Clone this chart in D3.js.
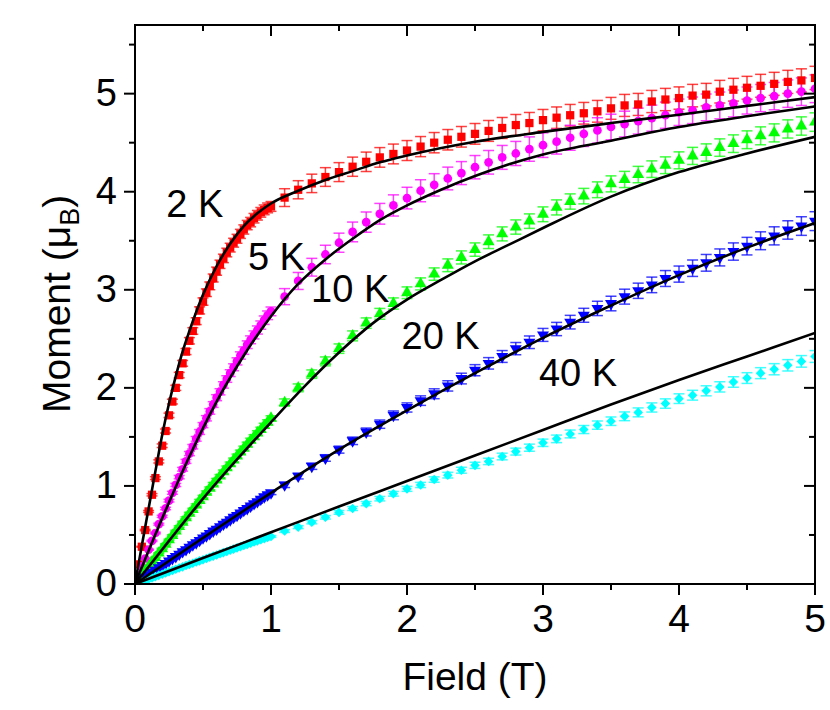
<!DOCTYPE html>
<html>
<head>
<meta charset="utf-8">
<script src="https://cdn.jsdelivr.net/npm/d3@7"></script>
<style>
  html, body { margin: 0; padding: 0; background: #fff; }
  svg { display: block; }
  text { font-family: "Liberation Sans", Arial, Helvetica, sans-serif; fill: #000; }
</style>
</head>
<body>
<svg id="chart" width="830" height="710"></svg>
<script>
// ---------------- DATA ----------------
const temperatures = ["2 K", "5 K", "10 K", "20 K", "40 K"];
const seriesColors = ["#ff0000", "#ff00ff", "#00ff00", "#0000ff", "#00ffff"];

const fieldLow = [0.025,0.05,0.075,0.1,0.125,0.15,0.175,0.2,0.225,0.25,0.275,0.3,0.325,0.35,0.375,0.4,
  0.425,0.45,0.475,0.5,0.525,0.55,0.575,0.6,0.625,0.65,0.675,0.7,0.725,0.75,0.775,0.8,0.825,0.85,0.875,0.9,
  0.925,0.95,0.975,1.0];
const fieldHigh = [1.1,1.2,1.3,1.4,1.5,1.6,1.7,1.8,1.9,2.0,2.1,2.2,2.3,2.4,2.5,2.6,2.7,2.8,2.9,3.0,
  3.1,3.2,3.3,3.4,3.5,3.6,3.7,3.8,3.9,4.0,4.1,4.2,4.3,4.4,4.5,4.6,4.7,4.8,4.9,5.0];

// measured moments (muB)
const m2KLow = [0.2,0.38,0.55,0.74,0.91,1.08,1.25,1.41,1.56,1.72,1.86,2.0,2.13,2.25,2.37,2.48,2.58,2.68,2.79,2.88,
  2.97,3.04,3.12,3.19,3.26,3.32,3.38,3.43,3.48,3.52,3.57,3.615,3.66,3.69,3.73,3.76,3.79,3.815,3.835,3.85];
const m2KHigh = [3.94,4.02,4.085,4.15,4.2,4.255,4.305,4.35,4.385,4.42,4.46,4.5,4.53,4.56,4.59,4.62,4.65,4.68,4.7,4.73,
  4.755,4.78,4.8,4.82,4.85,4.88,4.89,4.92,4.94,4.955,4.98,4.99,5.02,5.04,5.06,5.08,5.1,5.12,5.135,5.16];

const m5KLow = [0.09,0.18,0.26,0.35,0.44,0.52,0.61,0.69,0.77,0.85,0.93,1.01,1.09,1.17,1.25,1.33,1.4,1.48,1.55,1.62,
  1.69,1.76,1.83,1.9,1.96,2.03,2.09,2.15,2.21,2.27,2.33,2.38,2.44,2.49,2.54,2.59,2.64,2.69,2.74,2.78];
const m5KHigh = [2.93,3.09,3.23,3.36,3.48,3.59,3.69,3.775,3.86,3.935,4.01,4.07,4.135,4.19,4.25,4.3,4.35,4.39,4.435,4.475,
  4.51,4.55,4.59,4.625,4.66,4.69,4.72,4.75,4.78,4.81,4.83,4.86,4.88,4.9,4.93,4.955,4.975,5.0,5.02,5.05];

const m10KLow = [0.045,0.09,0.135,0.18,0.225,0.27,0.315,0.36,0.405,0.45,0.495,0.54,0.585,0.63,0.675,0.72,0.76,0.805,0.85,0.89,
  0.935,0.975,1.02,1.06,1.1,1.145,1.185,1.225,1.265,1.305,1.345,1.385,1.425,1.465,1.5,1.54,1.575,1.615,1.65,1.69];
const m10KHigh = [1.85,2.0,2.14,2.27,2.4,2.53,2.66,2.755,2.86,2.97,3.06,3.16,3.25,3.33,3.41,3.49,3.57,3.64,3.7,3.77,
  3.84,3.9,3.955,4.02,4.08,4.125,4.175,4.23,4.27,4.32,4.365,4.4,4.45,4.49,4.53,4.57,4.6,4.64,4.67,4.71];

const m20KLow = [0.025,0.05,0.07,0.095,0.12,0.14,0.165,0.19,0.21,0.235,0.26,0.28,0.305,0.33,0.35,0.375,0.4,0.42,0.445,0.47,
  0.49,0.515,0.54,0.56,0.585,0.61,0.63,0.655,0.68,0.7,0.725,0.75,0.77,0.795,0.82,0.84,0.865,0.89,0.91,0.93];
const m20KHigh = [1.01,1.1,1.2,1.285,1.37,1.46,1.55,1.63,1.72,1.8,1.87,1.94,2.02,2.095,2.18,2.25,2.32,2.4,2.465,2.54,
  2.6,2.67,2.74,2.81,2.86,2.93,2.99,3.05,3.115,3.16,3.22,3.275,3.33,3.39,3.445,3.5,3.55,3.61,3.65,3.7];

const m40KLow = [0.012,0.025,0.037,0.05,0.062,0.075,0.088,0.1,0.113,0.125,0.138,0.15,0.163,0.175,0.188,0.2,0.212,0.224,0.236,0.248,
  0.26,0.272,0.284,0.296,0.308,0.32,0.332,0.344,0.356,0.368,0.38,0.392,0.404,0.416,0.428,0.44,0.452,0.463,0.474,0.485];
const m40KHigh = [0.54,0.58,0.63,0.68,0.73,0.77,0.82,0.87,0.92,0.97,1.01,1.065,1.11,1.16,1.21,1.25,1.3,1.35,1.39,1.44,
  1.48,1.53,1.575,1.62,1.66,1.71,1.75,1.8,1.84,1.89,1.925,1.97,2.01,2.06,2.1,2.15,2.19,2.23,2.27,2.32];

// relative error bars (fraction of moment), low-field and high-field sets
const errFracLow  = [0.013, 0.016, 0.015, 0.02, 0.02];
const errFracHigh = [0.023, 0.028, 0.02, 0.026, 0.026];

// fit curves (black lines)
const fit2KField = [0,0.05,0.1,0.15,0.2,0.25,0.3,0.35,0.4,0.5,0.6,0.7,0.8,0.9,1.0,1.2,1.4,1.6,1.8,2.0,2.5,3.0,3.5,4.0,4.5,5.0];
const fit2KMoment = [0,0.39,0.77,1.15,1.52,1.84,2.12,2.37,2.58,2.95,3.24,3.47,3.65,3.78,3.88,4.01,4.12,4.21,4.3,4.37,4.51,4.61,4.7,4.785,4.875,4.965];
const fit5KField = [0,0.2,0.4,0.6,0.8,1.0,1.2,1.4,1.6,1.8,2.0,2.25,2.5,2.75,3.0,3.5,4.0,4.5,5.0];
const fit5KMoment = [0,0.67,1.3,1.86,2.33,2.73,3.06,3.31,3.52,3.71,3.86,4.02,4.16,4.28,4.38,4.52,4.66,4.77,4.87];
const fit10KField = [0,0.25,0.5,0.75,1.0,1.25,1.5,1.75,2.0,2.25,2.5,2.75,3.0,3.5,4.0,4.5,5.0];
const fit10KMoment = [0,0.44,0.87,1.27,1.65,2.02,2.36,2.66,2.9,3.1,3.29,3.46,3.63,3.95,4.2,4.39,4.56];
const fit20KField = [0,0.5,1.0,1.5,2.0,2.5,3.0,3.5,4.0,4.5,5.0];
const fit20KMoment = [0,0.47,0.93,1.37,1.77,2.15,2.51,2.84,3.15,3.43,3.68];
const fit40KField = [0,0.5,1.0,1.5,2.0,2.5,3.0,3.5,4.0,4.5,5.0];
const fit40KMoment = [0,0.265,0.527,0.79,1.05,1.31,1.57,1.83,2.08,2.32,2.56];

// annotation labels placed in data coordinates
const labelTexts = ["2 K", "5 K", "10 K", "20 K", "40 K"];
const labelField = [0.23, 0.83, 1.295, 1.96, 2.97];
const labelMoment = [3.74, 3.2, 2.88, 2.4, 2.02];

const xTicks = [0, 1, 2, 3, 4, 5];
const yTicks = [0, 1, 2, 3, 4, 5];

// ---------------- CHART ----------------
const svg = d3.select("#chart");
svg.append("rect").attr("width", 830).attr("height", 710).attr("fill", "#fff");

const L = 135, R = 815, T = 25, B = 584;
const x = d3.scaleLinear().domain([0, 5]).range([L, R]);
const y = d3.scaleLinear().domain([0, 5.7]).range([B, T]);

const lows = [m2KLow, m5KLow, m10KLow, m20KLow, m40KLow];
const highs = [m2KHigh, m5KHigh, m10KHigh, m20KHigh, m40KHigh];
const fits = [[fit2KField, fit2KMoment],[fit5KField, fit5KMoment],[fit10KField, fit10KMoment],[fit20KField, fit20KMoment],[fit40KField, fit40KMoment]];

const series = temperatures.map((t, i) => {
  const pts = [];
  fieldLow.forEach((f, j) => pts.push({f, m: lows[i][j], e: lows[i][j] * errFracLow[i]}));
  fieldHigh.forEach((f, j) => pts.push({f, m: highs[i][j], e: highs[i][j] * errFracHigh[i]}));
  return {t, color: seriesColors[i], pts, idx: i};
});

svg.append("defs").append("clipPath").attr("id", "plotclip")
  .append("rect").attr("x", L).attr("y", T).attr("width", R - L).attr("height", B - T);

const plot = svg.append("g").attr("clip-path", "url(#plotclip)");

const symbols = [
  d3.symbol().type(d3.symbolSquare).size(68),
  d3.symbol().type(d3.symbolCircle).size(60),
  d3.symbol().type(d3.symbolTriangle).size(62),
  d3.symbol().type(d3.symbolTriangle).size(62),
  d3.symbol().type(d3.symbolSquare).size(46)
];
const rotations = [0, 0, 0, 180, 45];

// error bars
series.forEach(s => {
  const g = plot.append("g").attr("stroke", s.color).attr("stroke-width", 1.5).attr("stroke-opacity", 0.75).attr("fill", "none");
  s.pts.forEach(p => {
    const cx = x(p.f), y1 = y(p.m + p.e), y2 = y(p.m - p.e);
    g.append("line").attr("x1", cx).attr("x2", cx).attr("y1", y1).attr("y2", y2);
    g.append("line").attr("x1", cx - 5.5).attr("x2", cx + 5.5).attr("y1", y1).attr("y2", y1);
    g.append("line").attr("x1", cx - 5.5).attr("x2", cx + 5.5).attr("y1", y2).attr("y2", y2);
  });
});

// markers
series.forEach(s => {
  plot.append("g").selectAll("path").data(s.pts).join("path")
    .attr("d", symbols[s.idx])
    .attr("fill", s.color)
    .attr("transform", d => `translate(${x(d.f)},${y(d.m)}) rotate(${rotations[s.idx]})`);
});

// fit lines
const line = d3.line().x(d => x(d[0])).y(d => y(d[1])).curve(d3.curveMonotoneX);
fits.forEach(([fx, fm]) => {
  plot.append("path").datum(fx.map((f, j) => [f, fm[j]]))
    .attr("d", line).attr("fill", "none").attr("stroke", "#000").attr("stroke-width", 2.6);
});

// annotation labels
labelTexts.forEach((t, i) => {
  svg.append("text").attr("x", x(labelField[i])).attr("y", y(labelMoment[i]))
    .attr("font-size", 38).text(t);
});

// axes: ticks
const axG = svg.append("g").attr("stroke", "#000").attr("stroke-width", 2);
const xMinor = d3.range(0, 5.01, 0.5);
const yMinor = d3.range(0, 5.71, 0.5);
xMinor.forEach(v => {
  const major = Math.abs(v - Math.round(v)) < 1e-6;
  const len = major ? 11 : 6;
  axG.append("line").attr("x1", x(v)).attr("x2", x(v)).attr("y1", B).attr("y2", B + len);
  axG.append("line").attr("x1", x(v)).attr("x2", x(v)).attr("y1", T).attr("y2", T + len);
});
yMinor.forEach(v => {
  const major = Math.abs(v - Math.round(v)) < 1e-6;
  const len = major ? 11 : 6;
  axG.append("line").attr("x1", L - len).attr("x2", L).attr("y1", y(v)).attr("y2", y(v));
  axG.append("line").attr("x1", R - len).attr("x2", R).attr("y1", y(v)).attr("y2", y(v));
});
// frame
svg.append("rect").attr("x", L).attr("y", T).attr("width", R - L).attr("height", B - T)
  .attr("fill", "none").attr("stroke", "#000").attr("stroke-width", 2);

// tick labels
xTicks.forEach(v => {
  svg.append("text").attr("x", x(v)).attr("y", 632).attr("text-anchor", "middle")
    .attr("font-size", 39).text(v);
});
yTicks.forEach(v => {
  svg.append("text").attr("x", 117).attr("y", y(v) + 12).attr("text-anchor", "end")
    .attr("font-size", 38).text(v);
});

// axis titles
svg.append("text").attr("x", (L + R) / 2).attr("y", 690).attr("text-anchor", "middle")
  .attr("font-size", 39).text("Field (T)");

const yt = svg.append("text").attr("transform", "translate(70,413) rotate(-90)")
  .attr("text-anchor", "start").attr("font-size", 39);
yt.append("tspan").text("Moment (μ");
yt.append("tspan").attr("font-size", 27).attr("dy", 9).text("B");
yt.append("tspan").attr("dy", -9).text(")");
</script>
</body>
</html>
